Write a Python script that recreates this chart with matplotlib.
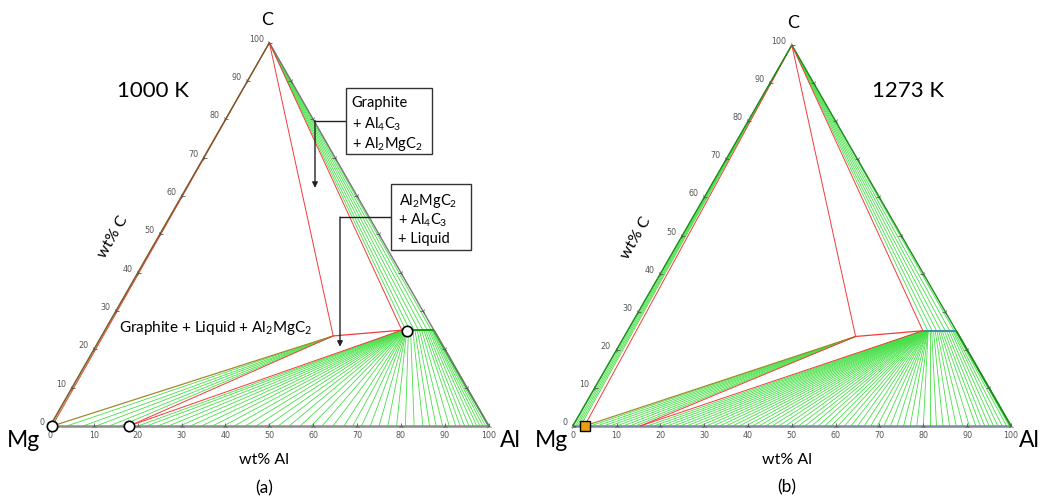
import numpy as np
import matplotlib
matplotlib.use("Agg")
import matplotlib.pyplot as plt
from matplotlib.patches import Rectangle

plt.rcParams['font.family'] = ['Lato', 'DejaVu Sans']
plt.rcParams['mathtext.fontset'] = 'custom'
plt.rcParams['mathtext.rm'] = 'Lato'
plt.rcParams['mathtext.it'] = 'Lato:italic'

# ---------------- compositions (wt% Al, wt% C) ----------------
al2mgc2 = (52.8, 23.5)
al4c3 = (75.0, 25.0)

# panel (a), 1000 K
a_liq_mg = 0.5          # liquid of Graphite + Liquid + Al2MgC2
a_liq_3ph = 18.0        # liquid of Al2MgC2 + Al4C3 + Liquid
a_al4c3_end = 67.7      # Mg-rich end of Al4C3 solution
a_edge_liq = [0.2]
a_c_fan = [68.6, 69.5, 70.5, 71.5, 72.5, 73.5, 74.4]
a_mgc_liq = [3.8, 7.5, 10.5, 13.5, 16.0]
a_fan_liq = [20, 22, 24.5, 27, 29.5, 32, 34.5, 37, 39.5, 42,
             44.5, 47, 49.5, 52, 54.5, 57, 59.5, 62, 64.5, 67,
             69, 71, 73, 75, 77, 79, 81, 83, 85, 86.5,
             88, 89.5, 91, 92.5, 93.5, 94.5, 95.5, 96.5, 97.3, 98,
             98.7, 99.3]
a_fan_sol = [67.8, 67.8, 67.8, 67.9, 67.9, 67.9, 68.0, 68.0, 68.0, 68.1,
             68.1, 68.1, 68.2, 68.2, 68.2, 68.3, 68.3, 68.4, 68.4, 68.5,
             68.5, 68.6, 68.6, 68.7, 68.7, 68.8, 69.2, 69.7, 70.2, 70.7,
             71.2, 71.7, 72.2, 72.7, 73.1, 73.5, 73.9, 74.2, 74.5, 74.7,
             74.9, 75.0]
a_circ_al = [0.5, 18.0, 69.0]
a_circ_c = [0.0, 0.0, 24.8]

# panel (b), 1273 K
b_liq_mg = 2.7
b_liq_3ph = 15.4
b_al4c3_end = 67.4
b_edge_liq = [0.2, 0.6, 1.0, 1.4, 1.8]
b_c_fan = [68.5, 69.5, 70.5, 71.5, 72.5, 73.5, 74.5]
b_mgc_liq = [4.0, 5.5, 7.0, 8.5, 10.0, 11.5, 13.0, 14.3]
b_fan_liq = [17, 18.5, 20, 21.5, 23, 24.5, 26, 27.5, 29, 30.5,
             32, 33.5, 35, 36.5, 38, 39.5, 41, 42.5, 44, 45.5,
             47, 48.5, 50, 51.5, 53, 54.5, 56, 57.5, 59, 60.5,
             62, 63.5, 65, 66.5, 68, 69.5, 71, 72.5, 74, 75.5,
             77, 78.5, 80, 81.5, 83, 84.5, 86, 87.5, 89, 90.5,
             92, 93, 94, 95, 96, 97, 98, 99, 99.6]
b_fan_sol = [67.4, 67.4, 67.4, 67.5, 67.5, 67.5, 67.5, 67.6, 67.6, 67.6,
             67.6, 67.7, 67.7, 67.7, 67.7, 67.8, 67.8, 67.8, 67.8, 67.9,
             67.9, 67.9, 67.9, 68.0, 68.0, 68.0, 68.0, 68.1, 68.1, 68.1,
             68.2, 68.2, 68.2, 68.3, 68.3, 68.3, 68.4, 68.4, 68.4, 68.5,
             68.5, 68.6, 68.6, 69.0, 69.4, 69.8, 70.2, 70.6, 71.0, 71.4,
             71.8, 72.3, 72.8, 73.3, 73.8, 74.2, 74.5, 74.8, 75.0]
b_sq_al = [2.7]
b_sq_c = [0.0]

tick_vals = [0, 10, 20, 30, 40, 50, 60, 70, 80, 90, 100]
right_ticks = [10, 20, 30, 40, 50, 60, 70, 80, 90]

GREEN = '#45e045'
DKGREEN = '#10a010'
RED = '#f23a3a'
OLIVE = '#a08a2a'
GREY = '#777777'
TICK = '#555555'

H = np.sqrt(3) / 2


def tern(al, c):
    al = np.asarray(al, float)
    c = np.asarray(c, float)
    return al + c / 2, c * H


def seg(ax, p, q, **kw):
    x0, y0 = tern(*p)
    x1, y1 = tern(*q)
    ax.plot([x0, x1], [y0, y1], solid_capstyle='butt', **kw)


def draw_panel(ax, liq_mg, liq_3ph, ss_end, edge_liq, c_fan, mgc_liq,
               fan_liq, fan_sol, bottom_col, ss_col, edge_col, left_col):
    top = (0, 100)
    # tie lines
    for a in edge_liq:
        seg(ax, top, (a, 0), color=GREEN, lw=0.6)
    for a in c_fan:
        seg(ax, top, (a, 25), color=GREEN, lw=0.6)
    for a in mgc_liq:
        seg(ax, al2mgc2, (a, 0), color=GREEN, lw=0.6)
    for s, l in zip(fan_sol, fan_liq):
        seg(ax, (s, 25), (l, 0), color=GREEN, lw=0.6)
    seg(ax, al4c3, (100, 0), color=DKGREEN, lw=1.3)
    # three-phase triangles
    seg(ax, top, (liq_mg, 0), color=RED, lw=0.7)
    # triangle border
    seg(ax, (0, 0), (100, 0), color=bottom_col, lw=1.8)
    seg(ax, (0, 0), top, color=left_col, lw=1.0)
    seg(ax, top, (100, 0), color=edge_col, lw=1.0)
    seg(ax, (ss_end, 25), al4c3, color=ss_col, lw=1.4)
    seg(ax, (liq_mg, 0), al2mgc2, color=OLIVE, lw=0.9)
    seg(ax, top, al2mgc2, color=RED, lw=0.7)
    seg(ax, top, (ss_end, 25), color=RED, lw=0.7)
    seg(ax, al2mgc2, (ss_end, 25), color=RED, lw=0.9)
    seg(ax, (liq_3ph, 0), al2mgc2, color=RED, lw=0.7)
    seg(ax, (liq_3ph, 0), (ss_end, 25), color=RED, lw=0.7)

    # axis ticks and labels
    for v in tick_vals:
        x, y = tern(v, 0)
        ax.plot(x, y, marker='2', ms=4, mew=0.6, color=TICK)
        ax.annotate(str(v), (x, y), xytext=(0, -6.5), textcoords='offset points',
                    ha='center', va='center', fontsize=5.8, color=TICK,
                    family='DejaVu Sans')
        x, y = tern(0, v)
        ax.plot(x, y, marker='4', ms=4, mew=0.6, color=TICK)
        ax.annotate(str(v), (x, y), xytext=(-4, 2.5), textcoords='offset points',
                    ha='right', va='center', fontsize=5.8, color=TICK,
                    family='DejaVu Sans')
    for v in right_ticks:
        x, y = tern(100 - v, v)
        ax.plot(x, y, marker='3', ms=4, mew=0.6, color=TICK)

    ax.set_axis_off()


fig = plt.figure(figsize=(10.4, 5.04), dpi=100)
axA = fig.add_axes([0, 0, 0.5, 1])
axB = fig.add_axes([0.5, 0, 0.5, 1])
axA.set_xlim(-11.40, 107.13)
axA.set_ylim(-17.62, 96.25)
axB.set_xlim(-12.02, 106.62)
axB.set_ylim(-17.73, 96.84)

draw_panel(axA, a_liq_mg, a_liq_3ph, a_al4c3_end, a_edge_liq, a_c_fan,
           a_mgc_liq, a_fan_liq, a_fan_sol, '#8c8c8c', DKGREEN, GREY, '#7a5a2a')
draw_panel(axB, b_liq_mg, b_liq_3ph, b_al4c3_end, b_edge_liq, b_c_fan,
           b_mgc_liq, b_fan_liq, b_fan_sol, '#7d8aa0', '#3a90a0', '#1c8a1c', '#1c8a1c')

x, y = tern(a_circ_al, a_circ_c)
axA.plot(x, y, 'o', ms=7.5, mfc='white', mec='black', mew=1.2, zorder=5)
x, y = tern(b_sq_al, b_sq_c)
axB.plot(x, y, 's', ms=6.5, mfc='#e8a010', mec='black', mew=1.0, zorder=5)

# corner and axis labels
for ax, cx, mgx, alx, lab in [(axA, 49.4, -6.1, 104.9, '(a)'),
                              (axB, 50.2, -4.8, 104.2, '(b)')]:
    ax.text(cx, 91.7, 'C', ha='center', va='center', fontsize=13)
    ax.text(mgx, -3.2, 'Mg', ha='center', va='center', fontsize=16.5)
    ax.text(alx, -3.2, 'Al', ha='center', va='center', fontsize=16.5, clip_on=False)
    ax.text(48.8, -7.7, 'wt% Al', ha='center', va='center', fontsize=11.5)
    ax.text(48.8, -14.0, lab, ha='center', va='center', fontsize=12.5)
    ax.text(14.4, 42.8, 'wt% C', ha='center', va='center', fontsize=11.5, rotation=60)

axA.text(15.2, 74.3, '1000 K', ha='left', va='baseline', fontsize=16)
axB.text(68.4, 74.7, '1273 K', ha='left', va='baseline', fontsize=16)

# annotation boxes in (a)
axA.add_patch(Rectangle((67.4, 61.5), 87.0 - 67.4, 76.3 - 61.5, fc='white', ec='#333333', lw=1.0, zorder=6))
axA.text(68.8, 72.0, 'Graphite', fontsize=10.5, va='baseline', zorder=7)
axA.text(68.8, 67.3, r'+ Al$_4$C$_3$', fontsize=10.5, va='baseline', zorder=7)
axA.text(68.8, 62.7, r'+ Al$_2$MgC$_2$', fontsize=10.5, va='baseline', zorder=7)
axA.plot([67.4, 60.4], [69.0, 69.0], color='#222222', lw=1.0)
axA.annotate('', xy=(60.4, 53.8), xytext=(60.4, 69.0),
             arrowprops=dict(arrowstyle='-|>', mutation_scale=8, lw=1.0, color='#222222',
                             shrinkA=0, shrinkB=0))

axA.add_patch(Rectangle((77.7, 39.8), 95.9 - 77.7, 54.6 - 39.8, fc='white', ec='#333333', lw=1.0, zorder=6))
axA.text(79.6, 49.9, r'Al$_2$MgC$_2$', fontsize=10.5, va='baseline', zorder=7)
axA.text(79.3, 45.6, r'+ Al$_4$C$_3$', fontsize=10.5, va='baseline', zorder=7)
axA.text(79.3, 41.4, '+ Liquid', fontsize=10.5, va='baseline', zorder=7)
axA.plot([77.7, 66.1], [47.2, 47.2], color='#222222', lw=1.0)
axA.annotate('', xy=(66.1, 17.9), xytext=(66.1, 47.2),
             arrowprops=dict(arrowstyle='-|>', mutation_scale=8, lw=1.0, color='#222222',
                             shrinkA=0, shrinkB=0))

axA.text(15.8, 21.2, r'Graphite + Liquid + Al$_2$MgC$_2$', fontsize=11, va='baseline')

fig.savefig('out.png', dpi=100)
